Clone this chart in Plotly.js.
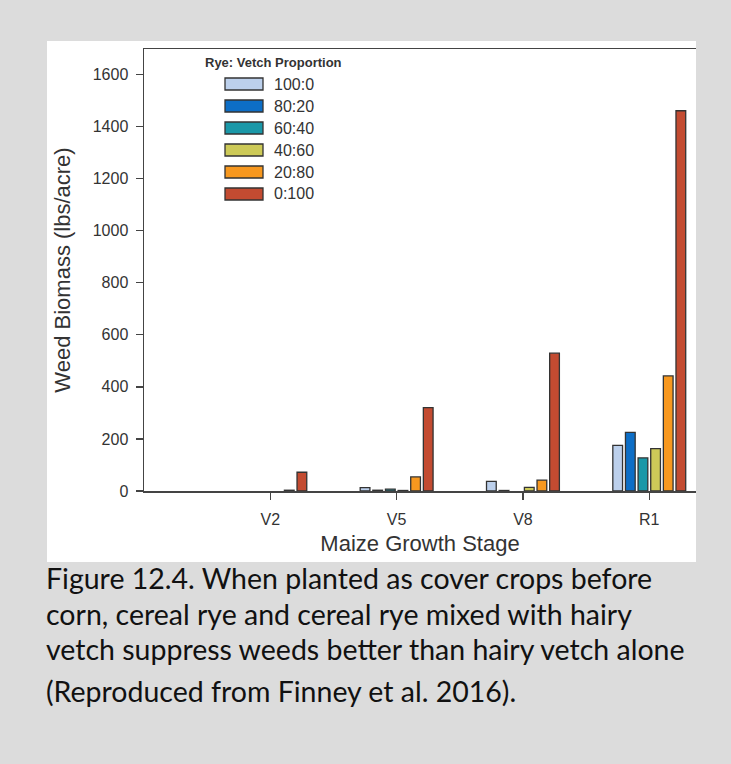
<!DOCTYPE html>
<html>
<head>
<meta charset="utf-8">
<script src="https://cdn.plot.ly/plotly-3.0.1.min.js"></script>
<style>
  html, body { margin: 0; padding: 0; background: #dcdcdc; }
  #chart { width: 731px; height: 764px; }
</style>
</head>
<body>
<div id="chart"></div>
<script>
// ---- data ----
const categories = ['V2', 'V5', 'V8', 'R1'];
const proportions = ['100:0', '80:20', '60:40', '40:60', '20:80', '0:100'];
const rye100_vetch0 = [0, 13, 37, 175];
const rye80_vetch20 = [0, 3, 2, 225];
const rye60_vetch40 = [0, 7, 0, 127];
const rye40_vetch60 = [0, 2, 14, 163];
const rye20_vetch80 = [3, 54, 42, 442];
const rye0_vetch100 = [72, 320, 529, 1460];
const yTicks = [0, 200, 400, 600, 800, 1000, 1200, 1400, 1600];
const legendTitle = 'Rye: Vetch Proportion';
const xTitle = 'Maize Growth Stage';
const yTitle = 'Weed Biomass (lbs/acre)';
const captionLines = [
  'Figure 12.4. When planted as cover crops before',
  'corn, cereal rye and cereal rye mixed with hairy',
  'vetch suppress weeds better than hairy vetch alone',
  '(Reproduced from Finney et al. 2016).'
];

const seriesValues = [rye100_vetch0, rye80_vetch20, rye60_vetch40, rye40_vetch60, rye20_vetch80, rye0_vetch100];
const colors = ['#bcd0ec', '#0d6ec6', '#1a98a8', '#cdca58', '#f7981f', '#c34b31'];

// ---- geometry helpers (layout only) ----
const W = 731, H = 764;
const M = {l: 144, r: 35, t: 49, b: 273};
const PW = W - M.l - M.r, PH = H - M.t - M.b;
const fx = px => (px - M.l) / PW;
const fy = py => (M.t + PH - py) / PH;

const font = 'Arial, "Liberation Sans", sans-serif';
const axisColor = '#444';

const traces = proportions.map((name, i) => ({
  type: 'bar',
  name: name,
  x: categories,
  y: seriesValues[i],
  marker: {
    color: colors[i],
    line: {color: '#333', width: seriesValues[i].map(v => (v > 0 ? 1.3 : 0))}
  },
  showlegend: false,
  hoverinfo: 'x+y+name'
}));

const shapes = [
  {type: 'rect', xref: 'paper', yref: 'paper', x0: fx(47), x1: fx(696), y0: fy(562), y1: fy(41),
   fillcolor: '#ffffff', line: {width: 0}, layer: 'below'}
];
const annotations = [];

// custom legend
annotations.push({xref: 'paper', yref: 'paper', x: fx(273), y: fy(62), xanchor: 'center', yanchor: 'middle',
  text: '<b>' + legendTitle + '</b>', showarrow: false, font: {family: font, size: 13, color: '#333'}});
proportions.forEach((name, i) => {
  const cy = 84 + 22 * i;
  shapes.push({type: 'rect', xref: 'paper', yref: 'paper', x0: fx(225), x1: fx(263), y0: fy(cy + 6), y1: fy(cy - 6),
    fillcolor: colors[i], line: {color: '#333', width: 1.3}});
  annotations.push({xref: 'paper', yref: 'paper', x: fx(272), y: fy(cy), xanchor: 'left', yanchor: 'middle',
    text: name, showarrow: false, font: {family: font, size: 16, color: '#333'}});
});

// caption
const capY = [578, 614, 649, 691];
captionLines.forEach((line, i) => {
  annotations.push({xref: 'paper', yref: 'paper', x: fx(44), y: fy(capY[i]), xanchor: 'left', yanchor: 'middle',
    text: line, showarrow: false, font: {family: 'Lato, "Open Sans", sans-serif', size: 28.5, color: '#111'}});
});

const layout = {
  width: W, height: H,
  margin: M,
  paper_bgcolor: '#dcdcdc',
  plot_bgcolor: '#ffffff',
  font: {family: font, color: '#333'},
  barmode: 'group',
  bargap: 0.4,
  bargroupgap: 0.23,
  showlegend: false,
  xaxis: {
    type: 'category',
    categoryorder: 'array', categoryarray: categories,
    tickmode: 'array', tickvals: categories, ticktext: categories,
    range: [-1, 3.37],
    showline: true, linecolor: axisColor, linewidth: 1.5, mirror: true,
    ticks: 'outside', ticklen: 7, tickwidth: 1.5, tickcolor: axisColor,
    ticklabelstandoff: 6,
    showgrid: false, zeroline: false,
    tickfont: {family: font, size: 16, color: '#333'},
    title: {text: xTitle, font: {family: font, size: 22, color: '#333'}, standoff: 9}
  },
  yaxis: {
    range: [0, 1697],
    tickvals: yTicks, ticktext: yTicks.map(String),
    showline: true, linecolor: axisColor, linewidth: 1.5,
    ticks: 'outside', ticklen: 7, tickwidth: 1.5, tickcolor: axisColor,
    ticklabelstandoff: 4,
    showgrid: false, zeroline: false,
    tickfont: {family: font, size: 16, color: '#333'},
    title: {text: yTitle, font: {family: font, size: 22, color: '#333'}, standoff: 16}
  },
  shapes: shapes,
  annotations: annotations
};

Plotly.newPlot('chart', traces, layout, {displayModeBar: false, staticPlot: true});
</script>
</body>
</html>
